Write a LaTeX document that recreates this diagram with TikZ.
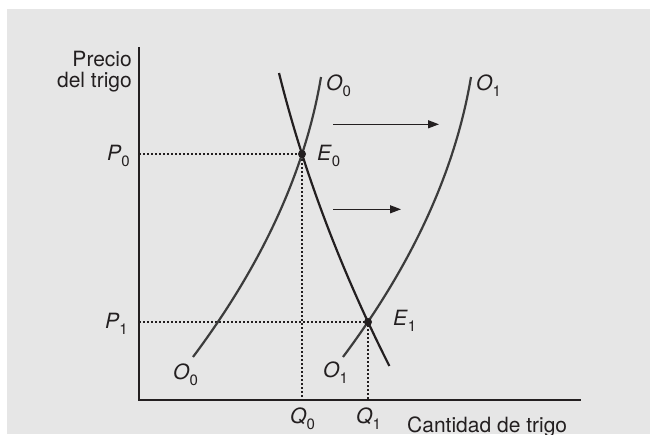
\documentclass[tikz,border=0pt]{standalone}
\usepackage{fontspec}
\setmainfont{TeX Gyre Heros}
\usetikzlibrary{arrows.meta}
\definecolor{bg}{HTML}{E6E6E6}
\definecolor{ink}{HTML}{231F20}
\definecolor{curvecol}{HTML}{3C3C3C}
\newcommand{\lbl}[2]{\textit{#1}\raisebox{-6pt}{\fontsize{15}{15}\selectfont #2}}
\begin{document}
\begin{tikzpicture}[x=1pt,y=-1pt,
  txt/.style={inner sep=0pt, font=\fontsize{21}{21}\selectfont, text=ink},
  axisline/.style={line width=1.4pt, draw=ink},
  guide/.style={line width=1.1pt, draw=ink, dash pattern=on 2pt off 2pt},
  supply/.style={line width=2.2pt, draw=curvecol},
  demand/.style={line width=2.2pt, draw=ink},
  movearrow/.style={line width=1.3pt, draw=ink, -{Triangle[length=11pt,width=8pt]}},
  eqdot/.style={circle, fill=ink, inner sep=0pt, minimum size=8pt}]
\useasboundingbox (0,0) rectangle (650,434);
\fill[bg] (7,9) rectangle (650,434);
% axes
\coordinate (orig) at (139,400);
\coordinate (ytop) at (139,47);
\coordinate (xend) at (581,400);
\draw[axisline] (ytop) -- (orig) -- (xend);
% key points
\coordinate (e0) at (302,154);
\coordinate (e1) at (368,322);
\coordinate (p0) at (139,154);
\coordinate (p1) at (139,322);
\coordinate (q0) at (302,400);
\coordinate (q1) at (368,400);
\draw[guide] (p0) -- (e0) -- (q0);
\draw[guide] (p1) -- (e1) -- (q1);
% curves
\draw[supply] plot[domain=-0.77:2.03, samples=60, variable=\v]
  ({302-32.66*\v-10.365*\v*\v},{154+100*\v});
\draw[supply] plot[domain=-0.77:2.03, samples=60, variable=\v]
  ({452-32.66*\v-10.365*\v*\v},{154+100*\v});
\draw[demand] plot[domain=-0.81:2.12, samples=60, variable=\v]
  ({302+31.94*\v+4.375*\v*\v},{154+100*\v});
% shift arrows
\coordinate (a1s) at (333,124.3);
\coordinate (a1e) at (439,124.3);
\coordinate (a2s) at (333,209.3);
\coordinate (a2e) at (401,209.3);
\draw[movearrow] (a1s) -- (a1e);
\draw[movearrow] (a2s) -- (a2e);
% equilibrium dots
\node[eqdot] (E0) at (e0) {};
\node[eqdot] (E1) at (e1) {};
% labels
\node[txt, anchor=base east] (yl1) at (132,66) {Precio};
\node[txt, anchor=base east] (yl2) at (132,87) {del trigo};
\node[txt, anchor=base east] (lp0) at (130,160) {\lbl{P}{0}};
\node[txt, anchor=base east] (lp1) at (128,328) {\lbl{P}{1}};
\node[txt, anchor=base west] (lo0t) at (326,90) {\lbl{O}{0}};
\node[txt, anchor=base west] (lo1t) at (476,90) {\lbl{O}{1}};
\node[txt, anchor=base west] (le0) at (317,160) {\lbl{E}{0}};
\node[txt, anchor=base west] (le1) at (393,325) {\lbl{E}{1}};
\node[txt, anchor=base west] (lo0b) at (173,379) {\lbl{O}{0}};
\node[txt, anchor=base west] (lo1b) at (323,377) {\lbl{O}{1}};
\node[txt, anchor=base west] (lq0) at (290,423) {\lbl{Q}{0}};
\node[txt, anchor=base west] (lq1) at (356,423) {\lbl{Q}{1}};
\node[txt, anchor=base west] (xl) at (407,432) {Cantidad de trigo};
\end{tikzpicture}
\end{document}
